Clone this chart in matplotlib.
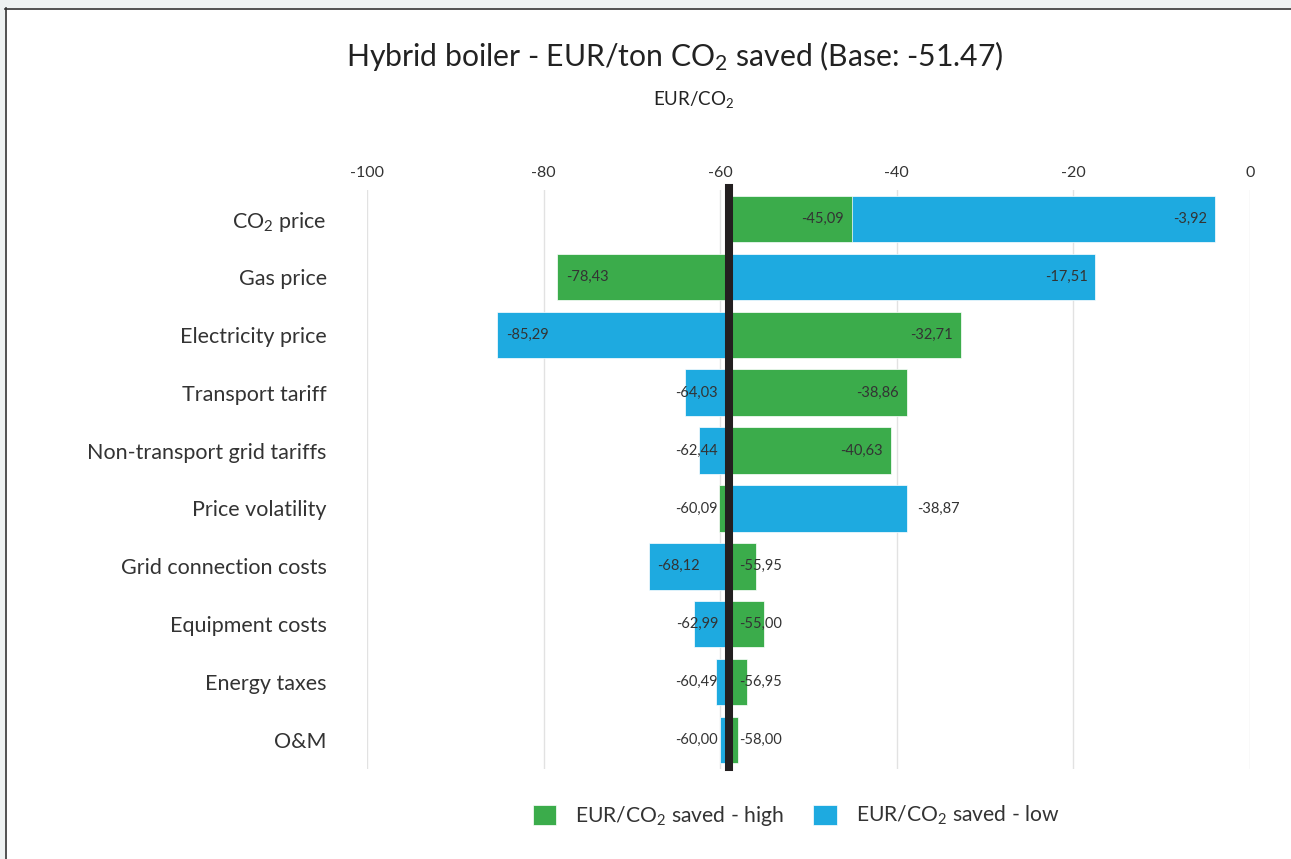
import matplotlib
matplotlib.use("Agg")
import matplotlib.pyplot as plt
from matplotlib.patches import Rectangle

plt.rcParams['font.family'] = ['Lato', 'DejaVu Sans']
plt.rcParams['mathtext.default'] = 'regular'

categories = ["CO$_2$ price", "Gas price", "Electricity price", "Transport tariff",
              "Non-transport grid tariffs", "Price volatility", "Grid connection costs",
              "Equipment costs", "Energy taxes", "O&M"]
high_values = [-45.09, -78.43, -32.71, -38.86, -40.63, -60.09, -55.95, -55.00, -56.95, -58.00]
low_values = [-3.92, -17.51, -85.29, -64.03, -62.44, -38.87, -68.12, -62.99, -60.49, -60.00]
base_value = -59.0
x_ticks = [-100, -80, -60, -40, -20, 0]

GREEN = "#3bac4b"
BLUE = "#1eaae0"
TXT = "#333333"

W, H = 1291, 859
fig = plt.figure(figsize=(W / 100, H / 100), dpi=100)

# screenshot frame
fig.patches.append(Rectangle((0, 1 - 8 / H), 1, 8 / H, transform=fig.transFigure,
                             facecolor="#eef2f2", edgecolor="none", zorder=0))
fig.patches.append(Rectangle((0, 0), 5 / W, 1, transform=fig.transFigure,
                             facecolor="#eef2f2", edgecolor="none", zorder=0))
fig.add_artist(plt.Line2D([5.5 / W, 5.5 / W], [0, 1 - 8 / H], transform=fig.transFigure,
                          color="#333333", lw=1.2))
fig.add_artist(plt.Line2D([5 / W, 1], [1 - 8.5 / H, 1 - 8.5 / H], transform=fig.transFigure,
                          color="#333333", lw=1.2))

ax_l, ax_r = 367 / W, 1250 / W
ax_t, ax_b = 1 - 190 / H, 1 - 769 / H
ax = fig.add_axes([ax_l, ax_b, ax_r - ax_l, ax_t - ax_b])

n = len(categories)
ys = list(range(n))
bh = 0.8
ax.barh(ys, [v - base_value for v in low_values], left=base_value, height=bh,
        color=BLUE, edgecolor="white", linewidth=0.5, zorder=2,
        label="EUR/CO$_2$ saved - low")
ax.barh(ys, [v - base_value for v in high_values], left=base_value, height=bh,
        color=GREEN, edgecolor="white", linewidth=0.5, zorder=3,
        label="EUR/CO$_2$ saved - high")

ax.axvline(base_value, ymin=0.003, ymax=1.004, color="#231f20", lw=5.8, zorder=5,
           clip_on=False)

ax.set_xlim(-100, 0)
ax.set_ylim(n - 0.5, -0.5)
ax.set_xticks(x_ticks)
ax.set_xticklabels([str(t) for t in x_ticks])
ax.xaxis.tick_top()
ax.tick_params(axis='x', length=0, pad=7, labelsize=11.5, labelcolor=TXT)
ax.set_yticks(ys)
ax.set_yticklabels(categories)
ax.tick_params(axis='y', length=0, pad=29, labelsize=15.5, labelcolor=TXT)
for s in ax.spines.values():
    s.set_visible(False)
ax.grid(axis='x', color="#e2e2e2", lw=1, zorder=0)
ax.set_axisbelow(True)

px_per_unit = (1250 - 367) / 100.0
pt = 0.72
outside_end = {("low", 5)}
LFS = 10.5


def fmt(v):
    return f"{v:.2f}".replace(".", ",")


def label(v, i, kind):
    length_px = abs(v - base_value) * px_per_unit
    right = v > base_value
    if (kind, i) in outside_end:
        ax.annotate(fmt(v), (v, i), xytext=(10 * pt if right else -10 * pt, 0),
                    textcoords="offset points", ha="left" if right else "right",
                    va="center", fontsize=LFS, color=TXT, zorder=6)
    elif length_px > 55:
        ax.annotate(fmt(v), (v, i), xytext=(-8 * pt if right else 9 * pt, 0),
                    textcoords="offset points", ha="right" if right else "left",
                    va="center", fontsize=LFS, color=TXT, zorder=6)
    else:
        ax.annotate(fmt(v), (base_value, i), xytext=(10 * pt if right else -11 * pt, 0),
                    textcoords="offset points", ha="left" if right else "right",
                    va="center", fontsize=LFS, color=TXT, zorder=6)


for i in ys:
    label(high_values[i], i, "high")
    label(low_values[i], i, "low")

fig.text(675 / W, 1 - 56 / H, "Hybrid boiler - EUR/ton CO$_2$ saved (Base: -51.47)",
         ha="center", va="center", fontsize=21.7, color="#222222")
fig.text(694 / W, 1 - 100 / H, "EUR/CO$_2$", ha="center", va="center",
         fontsize=13.5, color="#222222")

handles, labels_ = ax.get_legend_handles_labels()
leg = fig.legend(handles[::-1], labels_[::-1], loc="center", bbox_to_anchor=(796 / W, 1 - 816 / H),
                 ncol=2, frameon=False, fontsize=15.2, handlelength=1.1, handleheight=1.1,
                 handletextpad=0.9, columnspacing=1.4, labelcolor=TXT)

fig.savefig("out.png", dpi=100)
